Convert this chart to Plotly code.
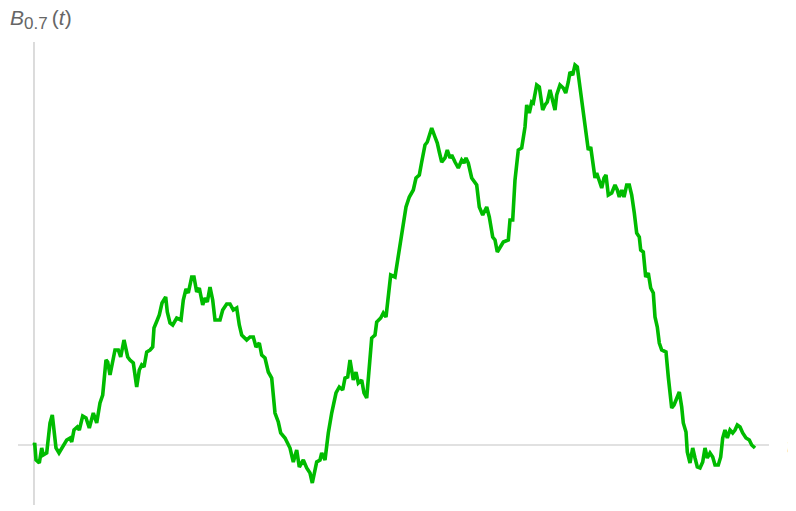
import plotly.graph_objects as go

# path: t in steps, B in arbitrary units
T_VALUES = [
    0, 0.7, 2, 5.3, 7.7, 9.3, 12.7, 16, 18.3, 20.3, 22, 25, 29.3, 32.7, 36, 37.7,
    40, 43.3, 45.3, 48.7, 52, 55.3, 59.3, 62.7, 66, 68.7, 72, 73.7, 76, 79.3, 81,
    84.3, 86.7, 90, 93.7, 96, 99.3, 102.7, 105.3, 107.7, 110, 112.7, 116, 118.7,
    120, 123.3, 125.3, 128, 131.7, 133.3, 136, 138.7, 142.7, 147, 149.3, 152,
    154.3, 157.7, 160, 162.7, 165.3, 168.7, 171, 173.3, 176, 178.7, 181, 186,
    188.7, 192.7, 196, 199.3, 202.7, 205.3, 207.7, 212.7, 216, 219.3, 222, 225.3,
    227.7, 231, 234.3, 237.7, 241, 244.3, 246.7, 251, 256, 259.3, 262.7, 265.3,
    269.3, 272.7, 276, 278.3, 281, 282.7, 286, 287.7, 291, 294.3, 297.7, 302,
    305.3, 308.7, 311, 313.7, 316, 319.3, 322, 324.3, 327.7, 330, 332.7, 335.3,
    337.7, 341, 342.7, 346.7, 349.3, 352, 355.3, 356.7, 361, 363.3, 366.7, 369.3,
    372, 375.3, 379.3, 382, 385.3, 387.7, 391, 393.3, 395.3, 397.7, 401, 403.3,
    405.3, 407.7, 411, 413.3, 416, 417.7, 421, 424.3, 427.7, 430, 432, 434.3,
    437.7, 442.7, 445.3, 448.7, 452.7, 455.3, 458.7, 461, 463.3, 466, 469.3,
    474.3, 476, 478.7, 481, 484.3, 487.7, 491, 492.7, 495.3, 497.7, 499.3, 502.7,
    505.3, 508.7, 511, 513.3, 516, 518.7, 521, 522.7, 526, 529.3, 531.7, 534.3,
    536, 538.7, 541, 543.3, 546, 549.3, 552, 554.3, 556.7, 559.3, 561, 562.7,
    564.3, 567.7, 570, 572, 574.3, 577.7, 581, 583.3, 585.3, 587.7, 590, 592.7,
    595.3, 597.7, 600.3, 602.7, 605.3, 606.7, 609.3, 611.7, 614.3, 616.7, 619.3,
    621, 623.3, 625.3, 627.7, 632, 634.3, 637.7, 640, 642.7, 645.3, 647.7, 649.3,
    652, 653.3, 656, 658.7, 661, 663.3, 666, 668.7, 671, 673.3, 676, 678.7, 681,
    684.3, 686.7, 688.7, 691, 693.3, 696, 698.7, 701, 703.3, 706, 708.7, 712,
    715.3, 717.7, 721,
]
B_VALUES = [
    0.00, 0.02, -0.15, -0.18, -0.03, -0.10, -0.08, 0.22, 0.30, 0.15, -0.03, -0.08,
    0.00, 0.05, 0.07, 0.03, 0.15, 0.18, 0.15, 0.29, 0.27, 0.17, 0.32, 0.22, 0.42,
    0.50, 0.85, 0.83, 0.70, 0.88, 0.95, 0.95, 0.88, 1.05, 0.88, 0.85, 0.82, 0.58,
    0.75, 0.80, 0.78, 0.93, 0.95, 0.98, 1.17, 1.25, 1.30, 1.42, 1.48, 1.33, 1.22,
    1.20, 1.27, 1.25, 1.45, 1.56, 1.52, 1.68, 1.68, 1.53, 1.57, 1.40, 1.47, 1.43,
    1.58, 1.45, 1.25, 1.25, 1.35, 1.41, 1.41, 1.35, 1.37, 1.20, 1.10, 1.05, 1.08,
    1.08, 0.98, 1.02, 0.90, 0.87, 0.73, 0.67, 0.32, 0.23, 0.12, 0.07, -0.03,
    -0.17, -0.05, -0.22, -0.15, -0.23, -0.28, -0.38, -0.27, -0.17, -0.15, -0.08,
    -0.15, 0.12, 0.32, 0.52, 0.58, 0.55, 0.67, 0.68, 0.85, 0.65, 0.73, 0.62,
    0.65, 0.52, 0.47, 0.78, 1.07, 1.10, 1.23, 1.27, 1.32, 1.28, 1.55, 1.70, 1.68,
    1.82, 2.02, 2.18, 2.38, 2.48, 2.55, 2.67, 2.70, 2.83, 3.00, 3.03, 3.10, 3.17,
    3.08, 3.02, 2.93, 2.83, 2.87, 2.95, 2.87, 2.90, 2.83, 2.77, 2.85, 2.82, 2.87,
    2.82, 2.67, 2.60, 2.38, 2.30, 2.38, 2.28, 2.08, 2.05, 1.93, 1.97, 2.03, 2.05,
    2.25, 2.25, 2.65, 2.95, 2.97, 3.18, 3.40, 3.32, 3.43, 3.42, 3.60, 3.58, 3.35,
    3.40, 3.43, 3.55, 3.43, 3.35, 3.50, 3.60, 3.57, 3.52, 3.63, 3.73, 3.70, 3.80,
    3.78, 3.58, 3.32, 3.15, 2.95, 2.98, 2.78, 2.67, 2.72, 2.67, 2.57, 2.67, 2.70,
    2.50, 2.52, 2.60, 2.55, 2.48, 2.55, 2.48, 2.60, 2.60, 2.50, 2.32, 2.12, 2.08,
    1.95, 1.93, 1.68, 1.72, 1.57, 1.52, 1.28, 1.18, 1.02, 0.95, 0.93, 0.68, 0.37,
    0.40, 0.47, 0.53, 0.38, 0.22, 0.13, -0.07, -0.18, -0.03, -0.13, -0.22, -0.23,
    -0.17, -0.03, -0.13, -0.08, -0.12, -0.20, -0.20, -0.12, 0.07, 0.15, 0.07,
    0.15, 0.12, 0.15, 0.20, 0.18, 0.12, 0.07, 0.05, 0.00, -0.03,
]

AXIS_COLOR = "#c4c4c4"
LABEL_COLOR = "#666666"
LINE_COLOR = "#00bb00"
LABEL_FONT = "Liberation Sans, Arial"

fig = go.Figure()
fig.add_trace(
    go.Scatter(
        x=T_VALUES,
        y=B_VALUES,
        mode="lines",
        line=dict(color=LINE_COLOR, width=3.6),
        hoverinfo="skip",
        showlegend=False,
    )
)

# Mathematica-style axes crossing at the origin
fig.add_shape(type="line", x0=-16, x1=735, y0=0, y1=0,
              line=dict(color=AXIS_COLOR, width=1.2), layer="below")
fig.add_shape(type="line", x0=0, x1=0, y0=-0.60, y1=4.03,
              line=dict(color=AXIS_COLOR, width=1.2), layer="below")

fig.add_annotation(
    x=0, y=4.26, xref="paper", yref="y", xanchor="left", yanchor="middle",
    text="<i>B</i><sub><span style='font-size:17px'>0.7</span></sub>\u2009(<i>t</i>)",
    showarrow=False,
    font=dict(family=LABEL_FONT, size=21, color=LABEL_COLOR),
)
fig.add_annotation(
    x=751, y=0.0, xref="x", yref="y", xanchor="left", yanchor="middle",
    text="<i>t</i>", showarrow=False,
    font=dict(family=LABEL_FONT, size=21, color=LABEL_COLOR),
)

# ranges leave room for the page's 8px body margin
fig.update_layout(
    width=796,
    height=511,
    margin=dict(l=0, r=0, t=0, b=0),
    paper_bgcolor="white",
    plot_bgcolor="white",
    xaxis=dict(range=[-26, 770], visible=False, fixedrange=True),
    yaxis=dict(range=[-0.74, 4.37], visible=False, fixedrange=True),
)

fig.write_html("out.html")
